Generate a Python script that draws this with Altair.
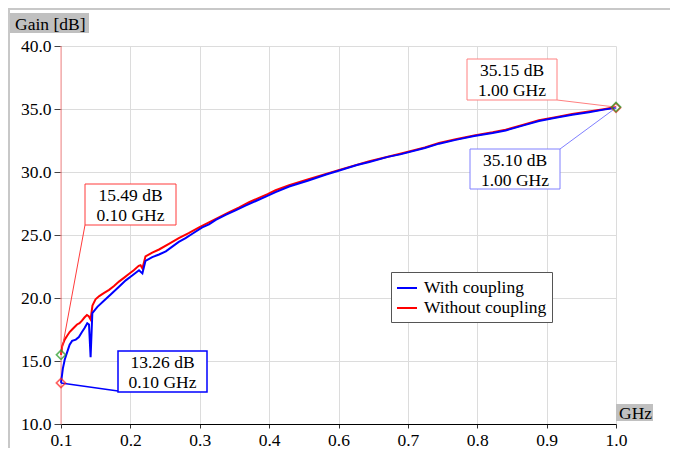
import altair as alt
import pandas as pd

# ---------------- data ----------------
series_names = ["With coupling", "Without coupling"]

freq_red = [0.100, 0.102, 0.106, 0.110, 0.114, 0.118, 0.122, 0.126, 0.130, 0.134,
            0.138, 0.142, 0.145, 0.148, 0.151, 0.156, 0.162, 0.170, 0.178, 0.186,
            0.194, 0.202, 0.210, 0.218, 0.226, 0.229, 0.232, 0.237, 0.248, 0.259,
            0.275, 0.291, 0.307, 0.324, 0.340, 0.356, 0.372, 0.389, 0.405, 0.421,
            0.435, 0.448, 0.470, 0.500, 0.550, 0.600, 0.650, 0.690, 0.713, 0.740,
            0.770, 0.800, 0.821, 0.850, 0.875, 0.902, 0.929, 0.956, 0.980, 1.000]
gain_red = [15.49, 16.2, 16.7, 17.0, 17.3, 17.5, 17.7, 17.9, 18.0, 18.2,
            18.45, 18.65, 18.55, 18.3, 19.4, 19.9, 20.15, 20.4, 20.65, 20.95,
            21.3, 21.6, 21.9, 22.2, 22.55, 22.6, 22.35, 23.3, 23.6, 23.85,
            24.3, 24.75, 25.15, 25.6, 26.0, 26.4, 26.8, 27.2, 27.6, 27.95,
            28.25, 28.55, 28.95, 29.4, 30.15, 30.85, 31.45, 31.95, 32.3, 32.6,
            32.9, 33.15, 33.35, 33.75, 34.1, 34.35, 34.6, 34.8, 34.98, 35.15]

freq_blue = [0.100, 0.103, 0.106, 0.110, 0.114, 0.118, 0.124, 0.129, 0.134, 0.138,
             0.1426, 0.1454, 0.148, 0.1508, 0.159, 0.170, 0.181, 0.194, 0.205, 0.216,
             0.2265, 0.232, 0.237, 0.248, 0.259, 0.270, 0.281, 0.291, 0.302, 0.313,
             0.329, 0.340, 0.351, 0.367, 0.383, 0.400, 0.416, 0.432, 0.448, 0.470,
             0.500, 0.530, 0.550, 0.580, 0.600, 0.630, 0.650, 0.690, 0.713, 0.740,
             0.770, 0.800, 0.821, 0.850, 0.875, 0.902, 0.929, 0.956, 0.980, 1.000]
gain_blue = [13.26, 14.4, 15.1, 15.7, 16.3, 16.6, 16.7, 16.9, 17.3, 17.6,
             18.0, 17.9, 15.3, 18.8, 19.3, 19.8, 20.3, 20.9, 21.4, 21.8,
             22.2, 21.95, 22.95, 23.25, 23.45, 23.7, 24.1, 24.45, 24.75, 25.1,
             25.6, 25.85, 26.2, 26.6, 26.95, 27.35, 27.7, 28.05, 28.4, 28.85,
             29.3, 29.8, 30.1, 30.55, 30.8, 31.2, 31.4, 31.9, 32.25, 32.55,
             32.85, 33.1, 33.3, 33.7, 34.05, 34.3, 34.55, 34.75, 34.95, 35.10]

x_ticks = [0.1, 0.2125, 0.325, 0.4375, 0.55, 0.6625, 0.775, 0.8875, 1.0]
y_ticks = [10, 15, 20, 25, 30, 35, 40]

ann_gain_text = ["15.49 dB", "13.26 dB", "35.15 dB", "35.10 dB"]
ann_freq_text = ["0.10 GHz", "0.10 GHz", "1.00 GHz", "1.00 GHz"]
ann_point_f = [0.1, 0.1, 1.0, 1.0]
ann_point_g = [15.49, 13.26, 35.15, 35.10]

# ---------------- layout / style ----------------
FONT = "Liberation Serif"
FS = 17.5
W, H = 555, 378
PAD = {"left": 53, "top": 38, "right": 54, "bottom": 24}
ann_box = [(24, 138, 115, 179), (57, 305, 146, 346), (406, 13, 496, 54), (409, 103, 499, 143)]
ann_anchor = [(24, 179), (57, 345), (496, 54), (499, 103)]
ann_stroke = ["#ff3b3b", "#0000ff", "#ff8080", "#8080ff"]
ann_width = [1, 1.5, 1, 1]
marker_color = ["#1f9a1f", "#ff2020", "#1f9a1f", "#ff2020"]

df_red = pd.DataFrame({"f": freq_red, "g": gain_red, "s": series_names[1]})
df_blue = pd.DataFrame({"f": freq_blue, "g": gain_blue, "s": series_names[0]})

X = alt.X("f:Q", title=None,
          scale=alt.Scale(domain=[0.1, 1.0], nice=False, zero=False),
          axis=alt.Axis(values=x_ticks, format=".1f", labelFont=FONT, labelFontSize=FS,
                        labelColor="black", tickColor="#333", tickSize=4, labelPadding=3,
                        domainColor="black", domainWidth=1, grid=True, gridColor="#dcdcdc",
                        labelFlush=False))
Y = alt.Y("g:Q", title=None,
          scale=alt.Scale(domain=[10, 40], nice=False, zero=False),
          axis=alt.Axis(values=y_ticks, format=".1f", labelFont=FONT, labelFontSize=FS,
                        labelColor="black", tickColor="#444", tickSize=7, labelPadding=3,
                        domain=False, grid=True, gridColor="#dcdcdc"))
C = alt.Color("s:N", scale=alt.Scale(domain=series_names, range=["#0000ff", "#ff0000"]),
              legend=alt.Legend(orient="none", legendX=330, legendY=226, title=None,
                                symbolType="stroke", symbolSize=400, symbolStrokeWidth=2,
                                labelFont=FONT, labelFontSize=FS, labelColor="black",
                                fillColor="white", strokeColor="#555", padding=5,
                                rowPadding=0, labelOffset=6))

one = pd.DataFrame({"d": [0]})
layers = []

# frame lines (top and left)
layers.append(alt.Chart(one).mark_rule(color="#c8c8c8", strokeWidth=2).encode(
    x=alt.value(-PAD["left"]), x2=alt.value(W + PAD["right"]), y=alt.value(-37), y2=alt.value(-37)))
layers.append(alt.Chart(one).mark_rule(color="#c8c8c8", strokeWidth=2).encode(
    x=alt.value(-52), x2=alt.value(-52), y=alt.value(-PAD["top"]), y2=alt.value(H + PAD["bottom"])))

# cursor line at 0.1 GHz
cursor = pd.DataFrame({"f": [0.1]})
layers.append(alt.Chart(cursor).mark_rule(color="#ff8c8c", strokeWidth=1).encode(
    x=X, y=alt.value(0), y2=alt.value(H)))

# curves
layers.append(alt.Chart(df_red).mark_line(strokeWidth=2).encode(x=X, y=Y, color=C))
layers.append(alt.Chart(df_blue).mark_line(strokeWidth=2).encode(x=X, y=Y, color=C))

# annotations
for i in range(4):
    pt = pd.DataFrame({"f": [ann_point_f[i]], "g": [ann_point_g[i]],
                       "t1": [ann_gain_text[i]], "t2": [ann_freq_text[i]]})
    ax, ay = ann_anchor[i]
    layers.append(alt.Chart(pt).mark_rule(color=ann_stroke[i], strokeWidth=ann_width[i]).encode(
        x=X, y=Y, x2=alt.value(ax), y2=alt.value(ay)))
    x1, y1, x2, y2 = ann_box[i]
    layers.append(alt.Chart(pt).mark_rect(fill="white", stroke=ann_stroke[i],
                                          strokeWidth=ann_width[i]).encode(
        x=alt.value(x1), x2=alt.value(x2), y=alt.value(y1), y2=alt.value(y2)))
    cx = (x1 + x2) / 2
    layers.append(alt.Chart(pt).mark_text(font=FONT, fontSize=FS, color="black",
                                          align="center", baseline="alphabetic").encode(
        x=alt.value(cx), y=alt.value(y1 + 17), text="t1:N"))
    layers.append(alt.Chart(pt).mark_text(font=FONT, fontSize=FS, color="black",
                                          align="center", baseline="alphabetic").encode(
        x=alt.value(cx), y=alt.value(y1 + 37), text="t2:N"))

# markers (red ones first so green sits on top)
for i in [1, 3, 0, 2]:
    pt = pd.DataFrame({"f": [ann_point_f[i]], "g": [ann_point_g[i]]})
    layers.append(alt.Chart(pt).mark_point(shape="diamond", filled=False, size=85,
                                           strokeWidth=1.6, color=marker_color[i]).encode(x=X, y=Y))

# axis title boxes
title_df = pd.DataFrame({"yt": ["Gain [dB]"], "xt": ["GHz"]})
layers.append(alt.Chart(title_df).mark_rect(fill="#c0c0c0").encode(
    x=alt.value(-51), x2=alt.value(28), y=alt.value(-33), y2=alt.value(-13)))
layers.append(alt.Chart(title_df).mark_text(font=FONT, fontSize=FS, color="black",
                                            align="left", baseline="alphabetic").encode(
    x=alt.value(-46), y=alt.value(-16), text="yt:N"))
layers.append(alt.Chart(title_df).mark_rect(fill="#c0c0c0").encode(
    x=alt.value(555), x2=alt.value(592), y=alt.value(358), y2=alt.value(375)))
layers.append(alt.Chart(title_df).mark_text(font=FONT, fontSize=FS, color="black",
                                            align="left", baseline="alphabetic").encode(
    x=alt.value(558), y=alt.value(373), text="xt:N"))

chart = alt.layer(*layers).properties(
    width=W, height=H,
    autosize=alt.AutoSizeParams(type="none"),
    padding=PAD,
    background="white",
).configure_view(strokeWidth=0)

chart.save("out.html", embed_options={"renderer": "svg", "actions": False})
